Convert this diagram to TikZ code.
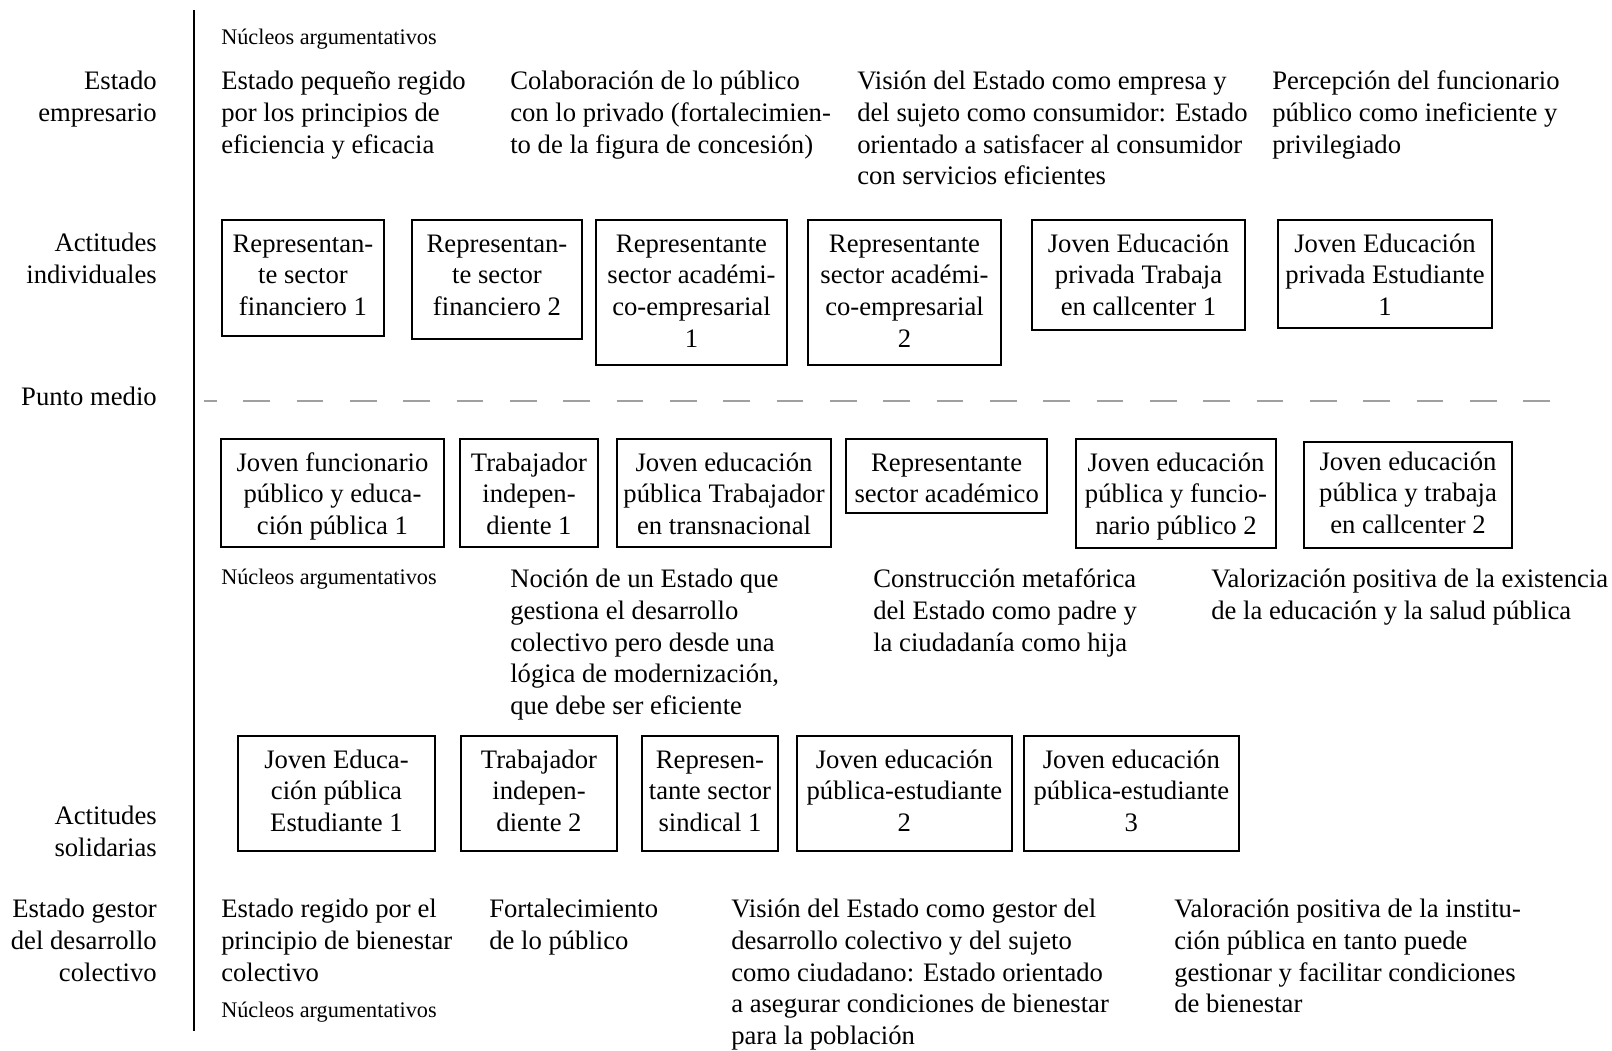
\documentclass[tikz,border=0pt]{standalone}
\usepackage{fontspec}
\setmainfont{Liberation Serif}

\begin{document}
\begin{tikzpicture}[x=0.75pt,y=0.75pt,yscale=-1,xscale=1,
	txt/.style={anchor=north west, align=left, inner sep=0pt, font=\fontsize{20}{23.8}\selectfont},
	lbl/.style={anchor=north east, align=right, inner sep=0pt, font=\fontsize{20}{23.8}\selectfont},
	nucleo/.style={anchor=base west, inner sep=0pt, font=\fontsize{16.7}{20}\selectfont},
	caja/.style={draw, line width=1.5, anchor=north west, align=center, inner xsep=2pt, inner ysep=7.34pt, font=\fontsize{20}{23.8}\selectfont},
	dos/.style={text height=40.5pt},
	tres/.style={text height=64.3pt},
	cuatro/.style={text height=88.1pt}]
	\useasboundingbox (0,0) rectangle (1612,1050);

	%Straight Lines [eje]
	\draw [line width=1.5]    (194,10) -- (194,1031) ;
	%Straight Lines [punto medio]
	\draw [color={rgb, 255:red, 160; green, 160; blue, 160 }, line width=1.7, dash pattern={on 20pt off 20pt}, dash phase=10.5pt]    (204,401) -- (1553,401) ;

	% Text Node
	\draw (157,70.8) node [lbl] (l1) {Estado\\empresario};
	% Text Node
	\draw (157,232.8) node [lbl] (l2) {Actitudes\\individuales};
	% Text Node
	\draw (157,386.8) node [lbl] (l3) {Punto medio};
	% Text Node
	\draw (157,805.8) node [lbl] (l4) {Actitudes\\solidarias};
	% Text Node
	\draw (157,898.8) node [lbl] (l5) {Estado gestor\\del desarrollo\\colectivo};

	% Text Node
	\draw (221,44) node [nucleo] (n1) {Núcleos argumentativos};
	% Text Node
	\draw (221,70.8) node [txt] (t1) {Estado pequeño regido\\por los principios de\\eficiencia y eficacia};
	% Text Node
	\draw (510,70.8) node [txt] (t2) {Colaboración de lo público\\con lo privado (fortalecimien-\\to de la figura de concesión)};
	% Text Node
	\draw (857,70.8) node [txt] (t3) {Visión del Estado como empresa y\\del sujeto como consumidor: Estado\\orientado a satisfacer al consumidor\\con servicios eficientes};
	% Text Node
	\draw (1272,70.8) node [txt] (t4) {Percepción del funcionario\\público como ineficiente y\\privilegiado};

	%Shape: Rectangle [actitudes individuales]
	\draw (221,219) node [caja, tres, minimum width=121.5pt, text depth=8.06pt] (b1) {Representan-\\te sector\\financiero 1};
	\draw (411,219) node [caja, tres, minimum width=127.5pt, text depth=10.3pt] (b2) {Representan-\\te sector\\financiero 2};
	\draw (595,219) node [caja, cuatro, minimum width=143.25pt, text depth=6pt] (b3) {Representante\\sector académi-\\co-empresarial\\1};
	\draw (807,219) node [caja, cuatro, minimum width=144.75pt, text depth=6pt] (b4) {Representante\\sector académi-\\co-empresarial\\2};
	\draw (1031,219) node [caja, tres, minimum width=159.75pt, text depth=3.56pt] (b5) {Joven Educación\\privada Trabaja\\en callcenter 1};
	\draw (1277,219) node [caja, tres, minimum width=160.5pt, text depth=2.06pt] (b6) {Joven Educación\\privada Estudiante\\1};

	%Shape: Rectangle [punto medio]
	\draw (220,438) node [caja, tres, minimum width=167.25pt, text depth=2.06pt] (c1) {Joven funcionario\\público y educa-\\ción pública 1};
	\draw (459,438) node [caja, tres, minimum width=103.5pt, text depth=2.06pt] (c2) {Trabajador\\indepen-\\diente 1};
	\draw (616,438) node [caja, tres, minimum width=160.5pt, text depth=2.06pt] (c3) {Joven educación\\pública Trabajador\\en transnacional};
	\draw (845,438) node [caja, dos, minimum width=151pt, text depth=0.36pt] (c4) {Representante\\sector académico};
	\draw (1075,438) node [caja, tres, minimum width=150pt, text depth=2.8pt] (c5) {Joven educación\\pública y funcio-\\nario público 2};
	\draw (1303,441) node [caja, minimum width=156pt, text height=61.3pt, text depth=3.56pt] (c6) {Joven educación\\pública y trabaja\\en callcenter 2};

	% Text Node
	\draw (221,584) node [nucleo] (n2) {Núcleos argumentativos};
	% Text Node
	\draw (510,568.8) node [txt] (m1) {Noción de un Estado que\\gestiona el desarrollo\\colectivo pero desde una\\lógica de modernización,\\que debe ser eficiente};
	% Text Node
	\draw (873,568.8) node [txt] (m2) {Construcción metafórica\\del Estado como padre y\\la ciudadanía como hija};
	% Text Node
	\draw (1211,568.8) node [txt] (m3) {Valorización positiva de la existencia\\de la educación y la salud pública};

	%Shape: Rectangle [actitudes solidarias]
	\draw (237,735) node [caja, tres, minimum width=147.75pt, text depth=7.31pt] (d1) {Joven Educa-\\ción pública\\Estudiante 1};
	\draw (460,735) node [caja, tres, minimum width=117pt, text depth=7.31pt] (d2) {Trabajador\\indepen-\\diente 2};
	\draw (641,735) node [caja, tres, minimum width=102pt, text depth=7.31pt] (d3) {Represen-\\tante sector\\sindical 1};
	\draw (796,735) node [caja, tres, minimum width=161pt, text depth=7.31pt] (d4) {Joven educación\\pública-estudiante\\2};
	\draw (1023,735) node [caja, tres, minimum width=161pt, text depth=7.31pt] (d5) {Joven educación\\pública-estudiante\\3};

	% Text Node
	\draw (221,898.8) node [txt] (e1) {Estado regido por el\\principio de bienestar\\colectivo};
	% Text Node
	\draw (221,1017) node [nucleo] (n3) {Núcleos argumentativos};
	% Text Node
	\draw (489,898.8) node [txt] (e2) {Fortalecimiento\\de lo público};
	% Text Node
	\draw (731,898.8) node [txt] (e3) {Visión del Estado como gestor del\\desarrollo colectivo y del sujeto\\como ciudadano: Estado orientado\\a asegurar condiciones de bienestar\\para la población};
	% Text Node
	\draw (1174,898.8) node [txt] (e4) {Valoración positiva de la institu-\\ción pública en tanto puede\\gestionar y facilitar condiciones\\de bienestar};
\end{tikzpicture}
\end{document}
